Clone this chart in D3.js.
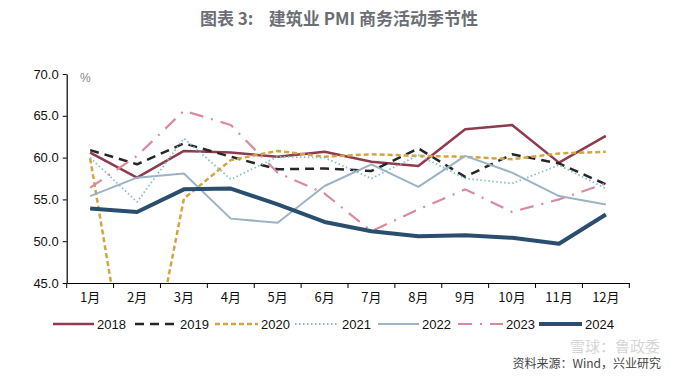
<!DOCTYPE html>
<html>
<head>
<meta charset="utf-8">
<script src="https://cdn.jsdelivr.net/npm/d3@7"></script>
<style>
  body { margin: 0; background: #fff; }
  svg text { font-family: "Liberation Sans Narrow", "Liberation Sans", "Noto Sans CJK SC", sans-serif; }
</style>
</head>
<body>
<div id="chart"></div>
<script>
// Data
const months = ["1月", "2月", "3月", "4月", "5月", "6月", "7月", "8月", "9月", "10月", "11月", "12月"];
const yTicks = [45, 50, 55, 60, 65, 70];

const v2018 = [60.6, 57.6, 60.8, 60.6, 60.1, 60.7, 59.5, 59.0, 63.4, 63.9, 59.4, 62.6];
const v2019 = [60.9, 59.2, 61.7, 60.1, 58.6, 58.7, 58.4, 61.1, 57.7, 60.4, 59.3, 56.8];
const v2020 = [59.9, 26.6, 55.1, 59.7, 60.8, 60.1, 60.4, 60.2, 60.1, 59.8, 60.5, 60.7];
const v2021 = [60.0, 54.7, 62.3, 57.4, 60.1, 60.0, 57.5, 60.3, 57.5, 56.9, 59.1, 56.3];
const v2022 = [55.4, 57.6, 58.1, 52.7, 52.2, 56.6, 59.2, 56.5, 60.2, 58.2, 55.4, 54.4];
const v2023 = [56.4, 60.2, 65.6, 63.9, 58.2, 55.7, 51.2, 53.8, 56.2, 53.5, 55.0, 56.9];
const v2024 = [53.9, 53.5, 56.2, 56.3, 54.4, 52.3, 51.2, 50.6, 50.7, 50.4, 49.7, 53.2];

const seriesList = [
  { name: "2018", values: v2018, color: "#8E3B4E", width: 2.5, dash: null },
  { name: "2019", values: v2019, color: "#262626", width: 2.5, dash: "9,6" },
  { name: "2020", values: v2020, color: "#D4A441", width: 2.5, dash: "5,3" },
  { name: "2021", values: v2021, color: "#86BDCC", width: 1.8, dash: "1.5,2.5" },
  { name: "2022", values: v2022, color: "#9DB3C3", width: 2, dash: null },
  { name: "2023", values: v2023, color: "#D98A9F", width: 2.2, dash: "14,8,2,8" },
  { name: "2024", values: v2024, color: "#2B4E6E", width: 4, dash: null }
];

const width = 674, height = 376;
const plotLeft = 66.7, plotRight = 629.3, plotTop = 74, plotBottom = 283;

const svg = d3.select("#chart").append("svg")
  .attr("width", width)
  .attr("height", height);

// Title
svg.append("text")
  .attr("x", 339)
  .attr("y", 25)
  .attr("text-anchor", "middle")
  .style("font-family", "'Noto Sans CJK SC', sans-serif")
  .style("font-size", "17px")
  .style("font-weight", "bold")
  .style("fill", "#6b6f75")
  .attr("xml:space", "preserve")
  .text("图表 3:    建筑业 PMI 商务活动季节性");

// Scales
const x = d3.scaleBand().domain(months).range([plotLeft, plotRight]).padding(0);
const y = d3.scaleLinear().domain([45, 70]).range([plotBottom, plotTop]);

// Clip so 2020's Feb drop stays in the plot
svg.append("clipPath").attr("id", "plot-clip")
  .append("rect")
  .attr("x", plotLeft).attr("y", plotTop - 5)
  .attr("width", plotRight - plotLeft + 5).attr("height", plotBottom - plotTop + 5);

// Y axis
const yAxis = d3.axisLeft(y).tickValues(yTicks).tickSize(4).tickSizeOuter(0)
  .tickFormat(d3.format(".1f"));
const gy = svg.append("g")
  .attr("transform", "translate(" + plotLeft + ",0)")
  .call(yAxis);
gy.select(".domain").attr("stroke", "#000").attr("stroke-width", 1.2);
gy.selectAll(".tick line").attr("stroke", "#000");
gy.selectAll("text")
  .attr("x", -8)
  .style("font-size", "13px")
  .style("fill", "#111");

// % unit
svg.append("text")
  .attr("x", 80)
  .attr("y", 82)
  .style("font-size", "12px")
  .style("fill", "#888")
  .text("%");

// X axis: labels at band centres, ticks at band edges
const xAxis = d3.axisBottom(x).tickSize(0).tickSizeOuter(0);
const gx = svg.append("g")
  .attr("transform", "translate(0," + plotBottom + ")")
  .call(xAxis);
gx.select(".domain").attr("stroke", "#000").attr("stroke-width", 1.2);
gx.selectAll("text")
  .attr("dy", "1.25em")
  .style("font-family", "'Liberation Sans Narrow', 'Noto Sans CJK SC', sans-serif")
  .style("font-size", "13px")
  .style("fill", "#111");

const edges = months.map(m => x(m)).concat([x(months[months.length - 1]) + x.bandwidth()]);
gx.selectAll(".edge-tick")
  .data(edges)
  .enter()
  .append("line")
  .attr("class", "edge-tick")
  .attr("x1", d => d).attr("x2", d => d)
  .attr("y1", 0).attr("y2", 5)
  .attr("stroke", "#000");

// Lines
const line = d3.line()
  .x((d, i) => x(months[i]) + x.bandwidth() / 2)
  .y(d => y(d));

const plot = svg.append("g").attr("clip-path", "url(#plot-clip)");

seriesList.forEach(s => {
  plot.append("path")
    .datum(s.values)
    .attr("fill", "none")
    .attr("stroke", s.color)
    .attr("stroke-width", s.width)
    .attr("stroke-dasharray", s.dash)
    .attr("stroke-linejoin", "round")
    .attr("d", line);
});

// Legend
const legendItems = [
  { x0: 53, x1: 94 },
  { x0: 135, x1: 177 },
  { x0: 215, x1: 258 },
  { x0: 295, x1: 339 },
  { x0: 378, x1: 419 },
  { x0: 458, x1: 503 },
  { x0: 539, x1: 582 }
];
const legendY = 324;
const legend = svg.append("g").attr("class", "legend");
seriesList.forEach((s, i) => {
  const pos = legendItems[i];
  legend.append("line")
    .attr("x1", pos.x0).attr("x2", pos.x1)
    .attr("y1", legendY).attr("y2", legendY)
    .attr("stroke", s.color)
    .attr("stroke-width", s.width)
    .attr("stroke-dasharray", s.dash);
  legend.append("text")
    .attr("x", pos.x1 + 3)
    .attr("y", legendY + 5)
    .style("font-size", "13px")
    .style("fill", "#111")
    .text(s.name);
});

// Watermark and source
svg.append("text")
  .attr("x", 660)
  .attr("y", 352)
  .attr("text-anchor", "end")
  .style("font-family", "'Noto Sans CJK SC', sans-serif")
  .style("font-size", "15px")
  .style("fill", "#d6d6d6")
  .text("雪球：鲁政委");

svg.append("text")
  .attr("x", 661)
  .attr("y", 368)
  .attr("text-anchor", "end")
  .style("font-family", "'Noto Sans CJK SC', sans-serif")
  .style("font-size", "12px")
  .style("fill", "#444")
  .text("资料来源：Wind，兴业研究");
</script>
</body>
</html>
